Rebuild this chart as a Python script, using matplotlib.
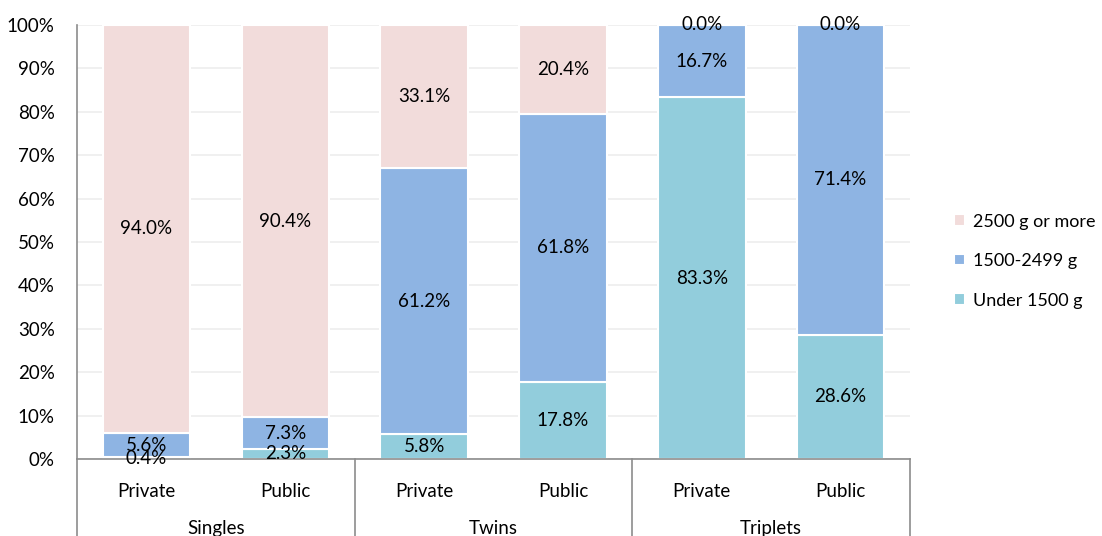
import numpy as np
import matplotlib.pyplot as plt
import matplotlib.transforms as mtransforms

# Data
groups = ['Singles', 'Twins', 'Triplets']
sectors = ['Private', 'Public', 'Private', 'Public', 'Private', 'Public']
under_1500 = [0.4, 2.3, 5.8, 17.8, 83.3, 28.6]
mid_1500_2499 = [5.6, 7.3, 61.2, 61.8, 16.7, 71.4]
over_2500 = [94.0, 90.4, 33.1, 20.4, 0.0, 0.0]

series = [
    ('Under 1500 g', under_1500, '#92CDDC'),
    ('1500-2499 g', mid_1500_2499, '#8EB4E3'),
    ('2500 g or more', over_2500, '#F2DCDB'),
]

plt.rcParams['font.family'] = ['Lato', 'DejaVu Sans']
fs = 13.5

fig = plt.figure(figsize=(11.02, 5.36), dpi=100)
ax = fig.add_axes([0.0699, 0.1437, 0.7559, 0.8097])

x = np.arange(len(sectors))
bottom = np.zeros(len(sectors))
handles = []
for name, vals, color in series:
    vals = np.array(vals)
    b = ax.bar(x, vals, 0.63, bottom=bottom, color=color, edgecolor='white',
               linewidth=1.5, label=name, zorder=2)
    handles.append(b)
    for xi, v, bt in zip(x, vals, bottom):
        ax.text(xi, bt + v / 2, f'{v:.1f}%', ha='center', va='center',
                fontsize=fs, color='black', zorder=3)
    bottom += vals

ax.set_xlim(-0.5, 5.5)
ax.set_ylim(0, 100)
ax.set_yticks(np.arange(0, 101, 10))
ax.set_yticklabels([f'{t}%' for t in range(0, 101, 10)], fontsize=fs)
ax.yaxis.grid(True, color='#EEEEEE', linewidth=1.2, zorder=0)
ax.set_axisbelow(True)
ax.tick_params(axis='y', length=0, pad=16)
ax.tick_params(axis='x', length=0, pad=17)
ax.set_xticks(x)
ax.set_xticklabels(sectors, fontsize=fs)

for s in ['top', 'right']:
    ax.spines[s].set_visible(False)
for s in ['left', 'bottom']:
    ax.spines[s].set_color('#8C8C8C')
    ax.spines[s].set_linewidth(1.2)
ax.spines['left'].set_bounds(0, 100)

# group separators and labels
trans = mtransforms.blended_transform_factory(ax.transData, ax.transAxes)
for gx in [-0.5, 1.5, 3.5, 5.5]:
    ax.plot([gx, gx], [0, -0.2], transform=trans, color='#8C8C8C',
            linewidth=1.2, clip_on=False)
for i, g in enumerate(groups):
    ax.text(2 * i + 0.5, -0.16, g, transform=trans, ha='center', va='center',
            fontsize=fs)

leg = fig.legend(handles[::-1], [h.get_label() for h in handles[::-1]],
                 loc='center left', bbox_to_anchor=(0.851, 0.513), frameon=False,
                 fontsize=13, handlelength=0.6, handleheight=0.6,
                 handletextpad=0.45, labelspacing=1.3)

fig.savefig('out.png', dpi=100)
